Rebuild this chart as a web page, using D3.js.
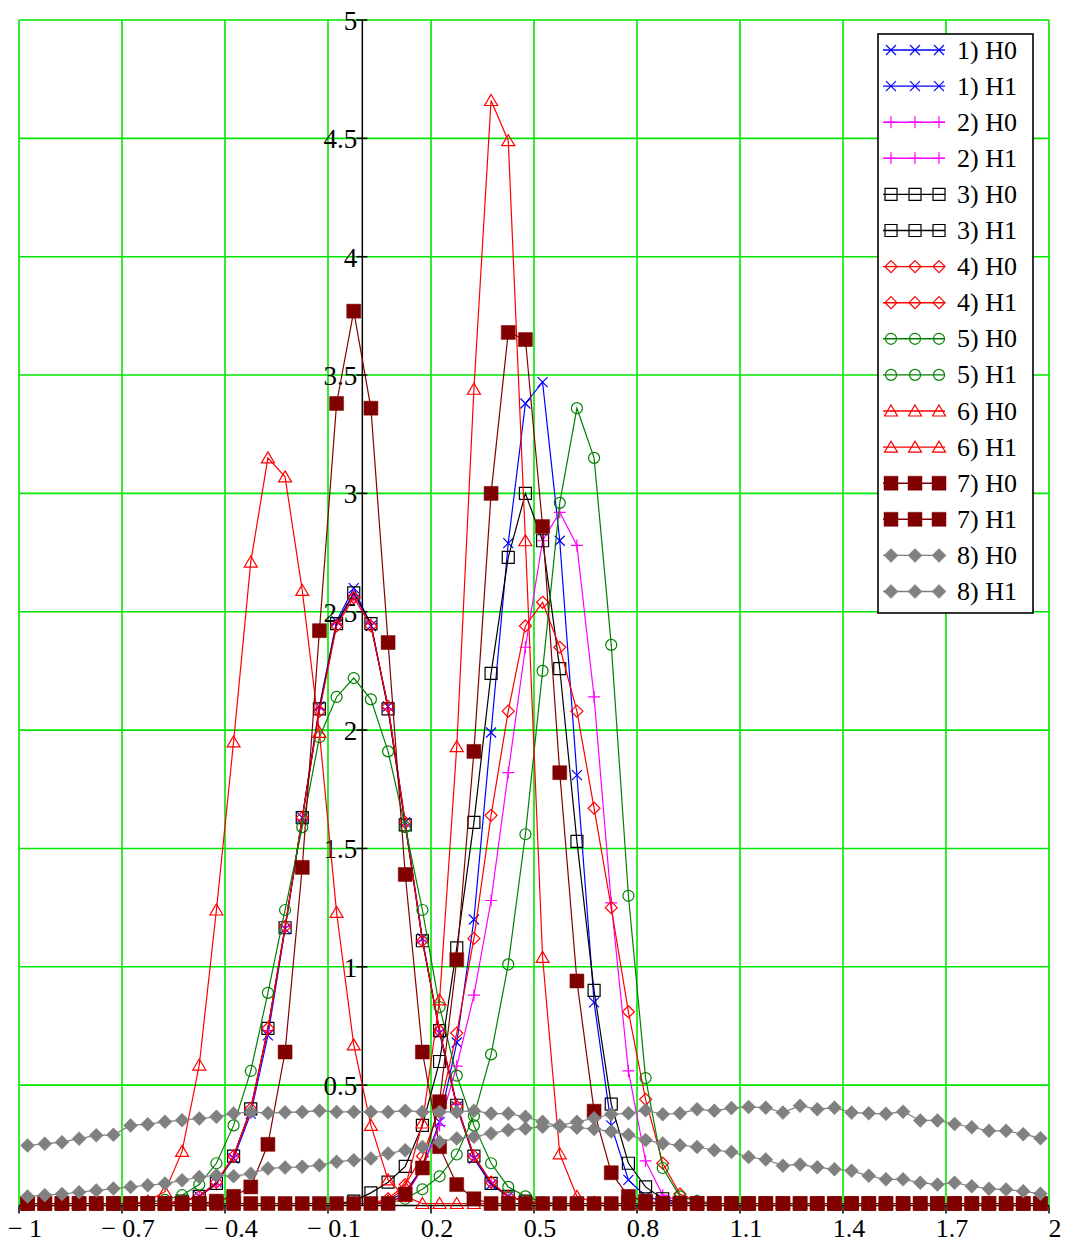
<!DOCTYPE html>
<html><head><meta charset="utf-8">
<script src="https://cdn.jsdelivr.net/npm/d3@7"></script>
<style>body{margin:0;background:#fff}svg{display:block}</style>
</head><body>
<svg id="c" width="1066" height="1244"></svg>
<script>
// bin centres (x)
const xs = [
-0.975,-0.925,-0.875,-0.825,-0.775,-0.725,-0.675,-0.625,-0.575,-0.525,
-0.475,-0.425,-0.375,-0.325,-0.275,-0.225,-0.175,-0.125,-0.075,-0.025,
0.025,0.075,0.125,0.175,0.225,0.275,0.325,0.375,0.425,0.475,
0.525,0.575,0.625,0.675,0.725,0.775,0.825,0.875,0.925,0.975,
1.025,1.075,1.125,1.175,1.225,1.275,1.325,1.375,1.425,1.475,
1.525,1.575,1.625,1.675,1.725,1.775,1.825,1.875,1.925,1.975];
const xTicks = [-1,-0.7,-0.4,-0.1,0.2,0.5,0.8,1.1,1.4,1.7,2];
const yTicks = [0.5,1,1.5,2,2.5,3,3.5,4,4.5,5];
const seriesNames = ["1) H0","1) H1","2) H0","2) H1","3) H0","3) H1","4) H0","4) H1",
                     "5) H0","5) H1","6) H0","6) H1","7) H0","7) H1","8) H0","8) H1"];

const s1H0 = [0,0,0,0,0,0,0,0,0,0.01,
 0.03,0.09,0.19,0.38,0.71,1.16,1.63,2.10,2.46,2.60,
 2.44,2.10,1.61,1.12,0.72,0.41,0.19,0.08,0.03,0.01,
 0,0,0,0,0,0,0,0,0,0, 0,0,0,0,0,0,0,0,0,0, 0,0,0,0,0,0,0,0,0,0];
const s1H1 = [0,0,0,0,0,0,0,0,0,0, 0,0,0,0,0,0,0,0,0,0,
 0,0.01,0.05,0.15,0.345,0.68,1.20,1.99,2.79,3.38,
 3.47,2.80,1.81,0.85,0.33,0.10,0.03,0.01,0,0,
 0,0,0,0,0,0,0,0,0,0, 0,0,0,0,0,0,0,0,0,0];
const s2H0 = [0,0,0,0,0,0,0,0,0,0.01,
 0.03,0.08,0.20,0.39,0.73,1.17,1.62,2.09,2.45,2.57,
 2.45,2.09,1.60,1.11,0.73,0.42,0.20,0.09,0.03,0.01,
 0,0,0,0,0,0,0,0,0,0, 0,0,0,0,0,0,0,0,0,0, 0,0,0,0,0,0,0,0,0,0];
const s2H1 = [0,0,0,0,0,0,0,0,0,0, 0,0,0,0,0,0,0,0,0,0,
 0,0.005,0.03,0.15,0.33,0.58,0.88,1.28,1.82,2.35,
 2.80,2.92,2.78,2.14,1.27,0.56,0.18,0.035,0.01,0,
 0,0,0,0,0,0,0,0,0,0, 0,0,0,0,0,0,0,0,0,0];
const s3H0 = [0,0,0,0,0,0,0,0,0,0.01,
 0.03,0.085,0.20,0.40,0.74,1.165,1.63,2.09,2.45,2.58,
 2.45,2.09,1.60,1.11,0.73,0.415,0.20,0.085,0.03,0.01,
 0,0,0,0,0,0,0,0,0,0, 0,0,0,0,0,0,0,0,0,0, 0,0,0,0,0,0,0,0,0,0];
const s3H1 = [0,0,0,0,0,0,0,0,0,0, 0,0,0,0,0,0,0,0,0,0.01,
 0.045,0.09,0.157,0.33,0.60,1.08,1.61,2.24,2.73,3.00,
 2.80,2.26,1.53,0.90,0.42,0.17,0.07,0.02,0.005,0,
 0,0,0,0,0,0,0,0,0,0, 0,0,0,0,0,0,0,0,0,0];
const s4H0 = [0,0,0,0,0,0,0,0,0,0.01,
 0.03,0.09,0.20,0.40,0.74,1.17,1.63,2.08,2.44,2.56,
 2.44,2.10,1.61,1.11,0.73,0.41,0.20,0.09,0.03,0.01,
 0,0,0,0,0,0,0,0,0,0, 0,0,0,0,0,0,0,0,0,0, 0,0,0,0,0,0,0,0,0,0];
const s4H1 = [0,0,0,0,0,0,0,0,0,0, 0,0,0,0,0,0,0,0,0,0,
 0,0.02,0.08,0.20,0.40,0.72,1.12,1.64,2.08,2.44,
 2.54,2.35,2.08,1.67,1.25,0.81,0.44,0.17,0.04,0.01,
 0,0,0,0,0,0,0,0,0,0, 0,0,0,0,0,0,0,0,0,0];
const s5H0 = [0,0,0,0,0,0,0,0.005,0.015,0.035,
 0.08,0.17,0.33,0.56,0.89,1.24,1.59,1.97,2.14,2.22,
 2.13,1.91,1.59,1.24,0.83,0.54,0.33,0.17,0.07,0.03,
 0.005,0,0,0,0,0,0,0,0,0, 0,0,0,0,0,0,0,0,0,0, 0,0,0,0,0,0,0,0,0,0];
const s5H1 = [0,0,0,0,0,0,0,0,0,0, 0,0,0,0,0,0,0,0,0,0,
 0,0,0.02,0.06,0.115,0.207,0.37,0.63,1.01,1.56,
 2.25,2.96,3.36,3.15,2.36,1.30,0.53,0.15,0.03,0.01,
 0,0,0,0,0,0,0,0,0,0, 0,0,0,0,0,0,0,0,0,0];
const s6H0 = [0,0,0,0,0,0,0,0.01,0.05,0.22,
 0.585,1.24,1.95,2.71,3.15,3.07,2.59,1.99,1.23,0.67,
 0.33,0.10,0.03,0,0,0,0,0,0,0,
 0,0,0,0,0,0,0,0,0,0, 0,0,0,0,0,0,0,0,0,0, 0,0,0,0,0,0,0,0,0,0];
const s6H1 = [0,0,0,0,0,0,0,0,0,0, 0,0,0,0,0,0,0,0,0,0,
 0,0.01,0.07,0.34,0.86,1.93,3.44,4.66,4.49,2.80,
 1.04,0.21,0.03,0.005,0,0,0,0,0,0,
 0,0,0,0,0,0,0,0,0,0, 0,0,0,0,0,0,0,0,0,0];
const s7H0 = [0,0,0,0,0,0,0,0,0,0,
 0,0.01,0.03,0.07,0.25,0.64,1.42,2.42,3.38,3.77,
 3.36,2.37,1.39,0.64,0.24,0.08,0.02,0,0,0,
 0,0,0,0,0,0,0,0,0,0, 0,0,0,0,0,0,0,0,0,0, 0,0,0,0,0,0,0,0,0,0];
const s7H1 = [0,0,0,0,0,0,0,0,0,0, 0,0,0,0,0,0,0,0,0,0,
 0,0,0.04,0.15,0.43,1.03,1.91,3.00,3.68,3.65,
 2.86,1.82,0.94,0.39,0.13,0.03,0.01,0,0,0,
 0,0,0,0,0,0,0,0,0,0, 0,0,0,0,0,0,0,0,0,0];
const s8H0 = [0.245,0.252,0.259,0.274,0.288,0.29,0.33,0.335,0.345,0.352,
 0.359,0.366,0.38,0.387,0.382,0.385,0.387,0.392,0.387,0.387,
 0.387,0.387,0.392,0.387,0.387,0.387,0.392,0.38,0.38,0.366,
 0.345,0.326,0.32,0.315,0.304,0.29,0.268,0.254,0.246,0.239,
 0.225,0.218,0.196,0.186,0.16,0.165,0.153,0.145,0.138,0.117,
 0.102,0.102,0.088,0.08,0.088,0.073,0.062,0.059,0.052,0.041];
const s8H1 = [0.03,0.035,0.04,0.048,0.055,0.063,0.07,0.077,0.084,0.098,
 0.112,0.119,0.115,0.126,0.148,0.152,0.155,0.162,0.176,0.183,
 0.19,0.211,0.225,0.239,0.26,0.275,0.282,0.296,0.31,0.317,
 0.324,0.33,0.345,0.36,0.377,0.381,0.394,0.377,0.381,0.398,
 0.392,0.403,0.408,0.405,0.384,0.413,0.398,0.405,0.384,0.381,
 0.379,0.388,0.351,0.351,0.336,0.322,0.307,0.307,0.293,0.276];

const seriesValues = [s1H0,s1H1,s2H0,s2H1,s3H0,s3H1,s4H0,s4H1,s5H0,s5H1,s6H0,s6H1,s7H0,s7H1,s8H0,s8H1];
const seriesColors = ["#0000ff","#0000ff","#ff00ff","#ff00ff","#000000","#000000","#ff0000","#ff0000",
                      "#008000","#008000","#ff0000","#ff0000","#800000","#800000","#808080","#808080"];
const seriesMarkers = ["x","x","plus","plus","square","square","diamond","diamond",
                       "circle","circle","triangle","triangle","fsquare","fsquare","fdiamond","fdiamond"];

const markerPaths = {
  x: "M-5,-5L5,5M-5,5L5,-5",
  plus: "M-6,0L6,0M0,-6L0,6",
  square: "M-6,-6H6V6H-6Z",
  diamond: "M0,-6L6,0L0,6L-6,0Z",
  circle: "M5.5,0A5.5,5.5 0 1,1 -5.5,0A5.5,5.5 0 1,1 5.5,0Z",
  triangle: "M0,-6L6.5,5H-6.5Z",
  fsquare: "M-7,-7H7V7H-7Z",
  fdiamond: "M0,-7L7,0L0,7L-7,0Z"
};
const filled = {fsquare:true, fdiamond:true};

const svg = d3.select("#c");
const x = d3.scaleLinear().domain([-1,2]).range([19,1049]);
const y = d3.scaleLinear().domain([0,5]).range([1203.5,20]);
const axisY = y(0) + 2;
const FONT = "'Liberation Serif','Times New Roman',serif";
const GRID = "#00e600";

// grid
const g = svg.append("g");
g.selectAll("line.v").data(xTicks).join("line")
  .attr("x1", d=>x(d)).attr("x2", d=>x(d)).attr("y1", y(5)).attr("y2", axisY)
  .attr("stroke", GRID).attr("stroke-width", 1.6);
g.selectAll("line.h").data(yTicks).join("line")
  .attr("x1", x(-1)).attr("x2", x(2)).attr("y1", d=>y(d)).attr("y2", d=>y(d))
  .attr("stroke", GRID).attr("stroke-width", 1.6);

// axes
const ax = svg.append("g");
ax.append("line").attr("x1", x(-1)).attr("x2", x(2)).attr("y1", axisY).attr("y2", axisY)
  .attr("stroke", "#000").attr("stroke-width", 1.5);
ax.append("line").attr("x1", x(0)).attr("x2", x(0)).attr("y1", y(5)).attr("y2", axisY)
  .attr("stroke", "#000").attr("stroke-width", 1.5);
ax.selectAll("line.xt").data(xTicks).join("line")
  .attr("x1", d=>x(d)).attr("x2", d=>x(d)).attr("y1", axisY).attr("y2", axisY+8)
  .attr("stroke", "#000").attr("stroke-width", 1.5);
ax.selectAll("line.yt").data(yTicks).join("line")
  .attr("x1", x(0)-6).attr("x2", x(0)+5).attr("y1", d=>y(d)).attr("y2", d=>y(d))
  .attr("stroke", "#000").attr("stroke-width", 1.5);
const fmtX = d => d < 0 ? "\u2212 " + String(Math.abs(d)) : String(d);
ax.selectAll("text.xl").data(xTicks).join("text")
  .attr("x", d=>x(d)+6).attr("y", 1237).attr("text-anchor","middle")
  .attr("font-family", FONT).attr("font-size", 26).attr("fill","#000")
  .text(fmtX);
ax.selectAll("text.yl").data(yTicks).join("text")
  .attr("x", x(0)-5).attr("y", d=>y(d)+10).attr("text-anchor","end")
  .attr("font-family", FONT).attr("font-size", 27).attr("fill","#000")
  .text(d=>String(d));

// series
const line = d3.line().x((d,i)=>x(xs[i])).y(d=>y(d));
seriesValues.forEach((vals, si) => {
  const col = seriesColors[si], mk = seriesMarkers[si];
  const sg = svg.append("g");
  sg.append("path").attr("d", line(vals)).attr("fill","none")
    .attr("stroke", col).attr("stroke-width", 1.2);
  sg.selectAll("path.m").data(vals).join("path")
    .attr("transform", (d,i)=>`translate(${x(xs[i])},${y(d)})`)
    .attr("d", markerPaths[mk])
    .attr("fill", filled[mk] ? col : "none")
    .attr("stroke", col).attr("stroke-width", filled[mk] ? 0.5 : 1.2);
});

// legend
const lg = svg.append("g");
lg.append("rect").attr("x", 878).attr("y", 34).attr("width", 155).attr("height", 579)
  .attr("fill", "#fff").attr("stroke", "#000").attr("stroke-width", 1.6);
seriesNames.forEach((name, si) => {
  const ry = 50 + 36.1*si;
  const col = seriesColors[si], mk = seriesMarkers[si];
  lg.append("line").attr("x1", 883).attr("x2", 945).attr("y1", ry).attr("y2", ry)
    .attr("stroke", col).attr("stroke-width", 1.4);
  [891, 915, 939].forEach(mx => {
    lg.append("path").attr("transform", `translate(${mx},${ry})`).attr("d", markerPaths[mk])
      .attr("fill", filled[mk] ? col : "none")
      .attr("stroke", col).attr("stroke-width", filled[mk] ? 0.5 : 1.2);
  });
  lg.append("text").attr("x", 957).attr("y", ry+8.5)
    .attr("font-family", FONT).attr("font-size", 26).attr("fill", "#000").text(name);
});
</script>
</body></html>
